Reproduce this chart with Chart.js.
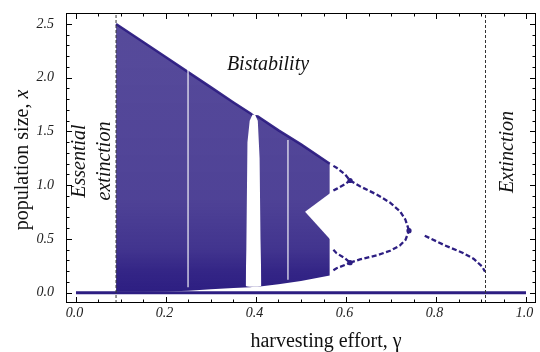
<!DOCTYPE html>
<html><head><meta charset="utf-8">
<script src="https://cdn.jsdelivr.net/npm/chart.js@4.4.1/dist/chart.umd.min.js"></script>
<style>html,body{margin:0;padding:0;background:#fff;}#wrap{width:540px;height:352px;}</style>
</head><body><div id="wrap"><canvas id="c" width="540" height="352"></canvas></div>
<script>
// ---------- data ----------
const xTickValues = [0, 0.2, 0.4, 0.6, 0.8, 1.0];
const xTickLabels = ['0.0', '0.2', '0.4', '0.6', '0.8', '1.0'];
const yTickValues = [0, 0.5, 1.0, 1.5, 2.0, 2.5];
const yTickLabels = ['0.0', '0.5', '1.0', '1.5', '2.0', '2.5'];

// chaotic band (envelope)
const chaosGamma = [0.089, 0.15, 0.2, 0.25, 0.3, 0.35, 0.387, 0.395, 0.404, 0.45, 0.5, 0.564];
const chaosUpper = [2.50, 2.33, 2.19, 2.05, 1.91, 1.77, 1.67, 1.645, 1.64, 1.51, 1.38, 1.20];
const chaosLower = [0.008, 0.008, 0.012, 0.018, 0.032, 0.043, 0.05, 0.055, 0.056, 0.08, 0.11, 0.16];

// white periodic window near gamma = 0.4
const windowGamma = [0.377, 0.3785, 0.381, 0.386, 0.392, 0.398, 0.404, 0.408, 0.410, 0.412];
const windowUpper = [0.07, 0.4, 1.40, 1.60, 1.655, 1.655, 1.60, 1.25, 0.50, 0.07];
const windowLower = [0.065, 0.06, 0.058, 0.056, 0.055, 0.055, 0.056, 0.058, 0.06, 0.065];

// white wedge separating the two chaotic bands
const wedgeGamma = [0.509, 0.566];
const wedgeUpper = [0.754, 0.93];
const wedgeLower = [0.754, 0.49];

// narrow periodic windows (white streaks)
const streakGamma = [0.249, 0.471];
const streakTop = [2.10, 1.42];
const streakBottom = [0.05, 0.12];

// period-4 branches
const p4Gamma = [0.572, 0.579, 0.598, 0.609];
const p4aX = [1.18, 1.163, 1.10, 1.044];
const p4bX = [0.95, 0.966, 1.01, 1.044];
const p4cX = [0.40, 0.368, 0.32, 0.28];
const p4dX = [0.21, 0.228, 0.259, 0.28];
// period-2 branches
const p2Gamma = [0.609, 0.631, 0.67, 0.698, 0.72, 0.732, 0.74];
const p2uX = [1.044, 0.99, 0.91, 0.838, 0.757, 0.68, 0.577];
const p2lX = [0.28, 0.31, 0.35, 0.39, 0.44, 0.49, 0.577];
// period-1 branch
const p1Gamma = [0.775, 0.82, 0.86, 0.884, 0.902, 0.909];
const p1X = [0.53, 0.44, 0.37, 0.315, 0.245, 0.196];
// bifurcation points
const blobGamma = [0.609, 0.609, 0.74];
const blobX = [1.044, 0.28, 0.577];
// extinction state
const zeroGamma = [0, 1.0];
const zeroX = [0, 0];
// dashed region borders
const borderGamma = [0.089, 0.91];

// ---------- styles ----------
const NAVY = 'rgb(45,30,130)';
const navyA = a => `rgba(45,30,130,${a})`;
const SERIF = '"Liberation Serif","Times New Roman",serif';
const X_MIN = -0.0222, X_MAX = 1.0222, Y_MIN = -0.0955, Y_MAX = 2.602;

const pts = (xs, ys) => xs.map((x, i) => ({x, y: ys[i]}));

function chaosFill(ctx) {
  const ch = ctx.chart;
  if (!ch.chartArea) return navyA(0.85);
  const y = ch.scales.y;
  const g = ch.ctx.createLinearGradient(0, y.getPixelForValue(0), 0, y.getPixelForValue(2.5));
  g.addColorStop(0, navyA(1));
  g.addColorStop(0.08, navyA(0.97));
  g.addColorStop(0.16, navyA(0.9));
  g.addColorStop(0.35, navyA(0.84));
  g.addColorStop(1, navyA(0.8));
  return g;
}

const datasets = [];
function add(ds) { datasets.push(ds); return datasets.length - 1; }
const base = {pointRadius: 0, pointHoverRadius: 0, tension: 0, borderWidth: 0, fill: false};

// chaotic region
const iChaosLow = add({...base, data: pts(chaosGamma, chaosLower), order: 101});
add({...base, data: pts(chaosGamma, chaosUpper), order: 100, fill: {target: iChaosLow},
     backgroundColor: chaosFill, borderColor: navyA(0.95), borderWidth: 2.5});
// white window
const iWinLow = add({...base, data: pts(windowGamma, windowLower), order: 91});
add({...base, data: pts(windowGamma, windowUpper), order: 90, fill: {target: iWinLow}, backgroundColor: '#fff'});
// white wedge
const iWedgeLow = add({...base, data: pts(wedgeGamma, wedgeLower), order: 89});
add({...base, data: pts(wedgeGamma, wedgeUpper), order: 88, fill: {target: iWedgeLow}, backgroundColor: '#fff'});
// streaks
streakGamma.forEach((g, i) => add({...base, data: [{x: g, y: streakBottom[i]}, {x: g, y: streakTop[i]}],
  order: 80, borderColor: 'rgba(255,255,255,0.7)', borderWidth: 1.6}));
// zero line
add({...base, data: pts(zeroGamma, zeroX), order: 70, borderColor: NAVY, borderWidth: 3});
// branches
const br = {...base, order: 20, borderColor: NAVY, borderWidth: 2.3, borderDash: [5, 2.5]};
add({...br, data: pts(p4Gamma, p4aX)});
add({...br, data: pts(p4Gamma, p4bX)});
add({...br, data: pts(p4Gamma, p4cX)});
add({...br, data: pts(p4Gamma, p4dX)});
add({...br, data: pts(p2Gamma, p2uX)});
add({...br, data: pts(p2Gamma, p2lX)});
add({...br, data: pts(p1Gamma, p1X)});
add({...base, data: pts(blobGamma, blobX), order: 15, showLine: false, pointRadius: 2.6,
     pointBackgroundColor: NAVY, pointBorderWidth: 0});
// dashed borders
borderGamma.forEach(g => add({...base, data: [{x: g, y: Y_MIN}, {x: g, y: Y_MAX}], order: 5,
  borderColor: '#333', borderWidth: 1, borderDash: [3, 2]}));

function drawRich(c, parts, x, y) {
  let w = 0;
  parts.forEach(p => { c.font = p.font; w += c.measureText(p.text).width; });
  let cx = x - w / 2;
  c.textAlign = 'left';
  parts.forEach(p => { c.font = p.font; c.fillText(p.text, cx, y); cx += c.measureText(p.text).width; });
}

const framePlugin = {
  id: 'frame',
  afterDraw(chart) {
    const c = chart.ctx, a = chart.chartArea, sx = chart.scales.x, sy = chart.scales.y;
    c.save();
    c.strokeStyle = '#000'; c.lineWidth = 1;
    c.strokeRect(Math.round(a.left) + 0.5, Math.round(a.top) + 0.5,
                 Math.round(a.right - a.left) - 1, Math.round(a.bottom - a.top) - 1);
    c.beginPath();
    for (let k = 0; k <= 20; k++) {
      const v = k * 0.05, px = Math.round(sx.getPixelForValue(v)) + 0.5;
      const len = (k % 4 === 0) ? 6 : 3.5;
      c.moveTo(px, a.bottom); c.lineTo(px, a.bottom - len);
      c.moveTo(px, a.top); c.lineTo(px, a.top + len);
    }
    for (let k = 0; k <= 25; k++) {
      const v = k * 0.1, py = Math.round(sy.getPixelForValue(v)) + 0.5;
      const len = (k % 5 === 0) ? 6 : 3.5;
      c.moveTo(a.left, py); c.lineTo(a.left + len, py);
      c.moveTo(a.right, py); c.lineTo(a.right - len, py);
    }
    c.stroke();
    c.fillStyle = '#222';
    c.font = `italic 14px ${SERIF}`;
    c.textAlign = 'center'; c.textBaseline = 'top';
    xTickValues.forEach((v, i) => c.fillText(xTickLabels[i], sx.getPixelForValue(v) - 1.5, a.bottom + 3));
    c.textAlign = 'right'; c.textBaseline = 'middle';
    yTickValues.forEach((v, i) => c.fillText(yTickLabels[i], a.left - 12, sy.getPixelForValue(v)));
    c.fillStyle = '#111'; c.textBaseline = 'alphabetic';
    drawRich(c, [{text: 'harvesting effort, ', font: `20px ${SERIF}`}, {text: 'γ', font: `20px ${SERIF}`}], 326, 346.5);
    c.save(); c.translate(28, 160); c.rotate(-Math.PI / 2);
    drawRich(c, [{text: 'population size, ', font: `20px ${SERIF}`}, {text: 'x', font: `italic 20px ${SERIF}`}], 0, 0);
    c.restore();
    c.font = `italic 20px ${SERIF}`; c.textAlign = 'center';
    c.fillText('Bistability', 268, 69.5);
    const rot = (t, x, y) => { c.save(); c.translate(x, y); c.rotate(-Math.PI / 2); c.fillText(t, 0, 0); c.restore(); };
    rot('Essential', 85, 161);
    rot('extinction', 110, 161);
    rot('Extinction', 513, 152);
    c.restore();
  }
};

new Chart(document.getElementById('c'), {
  type: 'line',
  data: {datasets},
  options: {
    responsive: false, animation: false, devicePixelRatio: 1,
    layout: {padding: {left: 66, right: 4, top: 13, bottom: 49}},
    plugins: {legend: {display: false}, tooltip: {enabled: false}},
    elements: {line: {borderCapStyle: 'butt'}},
    scales: {
      x: {type: 'linear', display: false, min: X_MIN, max: X_MAX},
      y: {type: 'linear', display: false, min: Y_MIN, max: Y_MAX}
    }
  },
  plugins: [framePlugin]
});
</script></body></html>
